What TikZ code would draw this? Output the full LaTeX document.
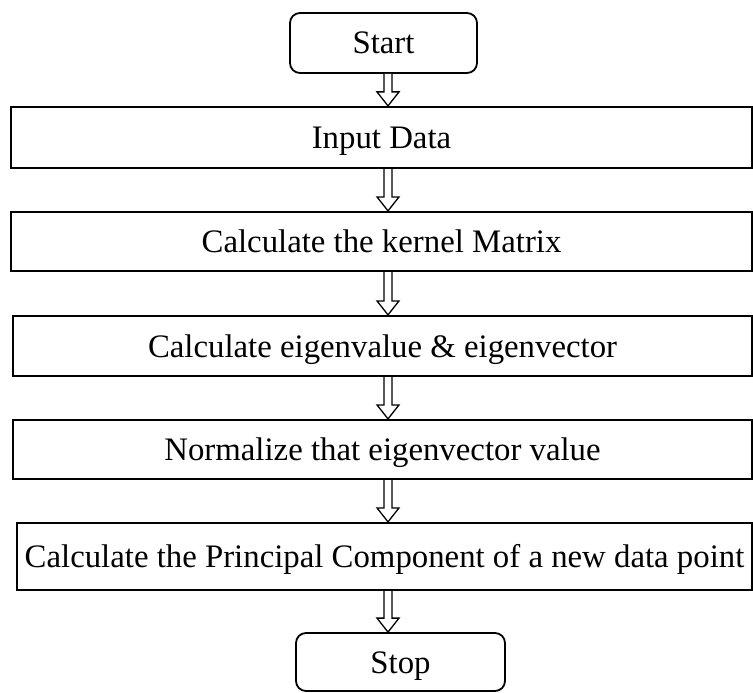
\documentclass[tikz,border=0pt]{standalone}
\usepackage{fontspec}
\setmainfont{Liberation Serif}
\usetikzlibrary{calc}
\begin{document}
\begin{tikzpicture}[x=1pt,y=-1pt,
  stepbox/.style={draw, line width=2.2pt, inner sep=0pt, text height=22pt, text depth=0pt, font=\fontsize{32.8}{38}\selectfont},
  termbox/.style={stepbox, rounded corners=10pt, line width=1.8pt},
  flowarrow/.style={draw, fill=white, line width=1.3pt, line join=miter}]
\useasboundingbox (0,0) rectangle (753,693);
\node[termbox, minimum width=187pt, minimum height=60pt] (start) at (383.5,43) {Start};
\node[stepbox, minimum width=741pt, minimum height=61pt] (b1) at (381.5,137.5) {Input Data};
\node[stepbox, minimum width=741pt, minimum height=59pt] (b2) at (381.5,241.5) {Calculate the kernel Matrix};
\node[stepbox, minimum width=739pt, minimum height=60pt] (b3) at (382.5,346) {Calculate eigenvalue \& eigenvector};
\node[stepbox, minimum width=739pt, minimum height=59pt] (b4) at (382.5,449.5) {Normalize that eigenvector value};
\node[stepbox, minimum width=735pt, minimum height=67pt] (b5) at (384.5,556.5) {Calculate the Principal Component of a new data point};
\node[termbox, minimum width=209pt, minimum height=58pt] (stop) at (400.5,662) {Stop};
\coordinate (ax) at (388,0);
\newcommand{\hollowarrow}[2]{%
  \draw[flowarrow] ($(#1.south -| ax)+(-4,0)$) -- ($(#2.north -| ax)+(-4,-14)$)
    -- ($(#2.north -| ax)+(-11,-14)$) -- (#2.north -| ax)
    -- ($(#2.north -| ax)+(11,-14)$) -- ($(#2.north -| ax)+(4,-14)$)
    -- ($(#1.south -| ax)+(4,0)$);}
\hollowarrow{start}{b1}
\hollowarrow{b1}{b2}
\hollowarrow{b2}{b3}
\hollowarrow{b3}{b4}
\hollowarrow{b4}{b5}
\hollowarrow{b5}{stop}
\end{tikzpicture}
\end{document}
